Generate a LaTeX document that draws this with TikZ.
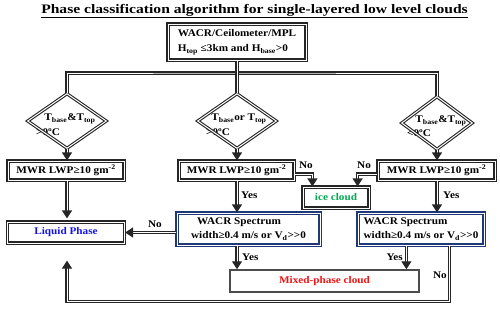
\documentclass[tikz,border=0pt]{standalone}
\usepackage{fontspec}
\setmainfont{Liberation Serif}[FakeStretch=1.1]
\newfontfamily\titlefont{Liberation Serif}[FakeStretch=1.2]
\usetikzlibrary{arrows.meta,shapes.geometric,calc}
\definecolor{wblue}{RGB}{31,56,120}
\definecolor{lblue}{RGB}{20,20,240}
\definecolor{igreen}{RGB}{0,170,80}
\definecolor{mred}{RGB}{240,20,20}
\begin{document}
\begin{tikzpicture}[x=1pt,y=-1pt,
  bxfont/.style={font=\bfseries\fontsize{10.2}{14}\selectfont},
  tbox/.style={draw=black!85, double=white, double distance=1pt, line width=1.2pt, fill=white, inner sep=0pt, bxfont},
  bbox/.style={tbox, draw=wblue},
  diam/.style={diamond, draw=black!85, double=white, double distance=1pt, line width=1.1pt, inner sep=0pt},
  dtext/.style={bxfont, inner sep=0pt},
  conn/.style={draw=black!85, double=white, double distance=1pt, line width=1.2pt},
  arr/.style={conn, -{Triangle[width=10pt,length=8pt]}},
  lbl/.style={bxfont, inner sep=0pt}]
\useasboundingbox (0,0) rectangle (500,308);
\node[font=\titlefont\bfseries\fontsize{13}{15}\selectfont, inner sep=0pt] (title) at (254.5,11) {\underline{Phase classification algorithm for single-layered low level clouds}};
\node[tbox, minimum width=138pt, minimum height=36pt, align=left, font=\bfseries\fontsize{10.2}{15}\selectfont] (top) at (237,42) {WACR/Ceilometer/MPL\\H\textsubscript{top} ≤3km and H\textsubscript{base}>0};
% diamond texts
\node[dtext] (d1a) at (70,119) {T\textsubscript{base}\&T\textsubscript{top}};
\node[dtext, anchor=west] (d1b) at (36,132) {>0ºC};
\node[dtext] (d2a) at (239,119) {T\textsubscript{base}or T\textsubscript{top}};
\node[dtext, anchor=west] (d2b) at (206,132) {>0ºC};
\node[dtext] (d3a) at (441,121) {T\textsubscript{base}\&T\textsubscript{top}};
\node[dtext, anchor=west] (d3b) at (407,133) {<0ºC};
\node[diam, minimum width=79pt, minimum height=55pt] (d1) at (67,121) {};
\node[diam, minimum width=79pt, minimum height=55pt] (d2) at (237,121) {};
\node[diam, minimum width=71pt, minimum height=53pt] (d3) at (437,123) {};
% boxes
\node[tbox, minimum width=116pt, minimum height=19pt] (m1) at (66,170.5) {MWR LWP≥10 gm\textsuperscript{-2}};
\node[tbox, minimum width=115pt, minimum height=19pt] (m2) at (236.5,170.5) {MWR LWP≥10 gm\textsuperscript{-2}};
\node[tbox, minimum width=117pt, minimum height=19pt] (m3) at (436.5,170.5) {MWR LWP≥10 gm\textsuperscript{-2}};
\node[tbox, minimum width=66pt, minimum height=21pt, text=igreen] (ice) at (336,197.5) {ice cloud};
\node[tbox, minimum width=117pt, minimum height=21pt, text=lblue] (liq) at (66,232.5) {Liquid Phase};
\node[bbox, minimum width=143pt, minimum height=32pt, align=left] (w1) at (248.5,229) {\hspace*{6pt}WACR Spectrum\\width≥0.4 m/s or V\textsubscript{d}>\kern0pt>0};
\node[bbox, minimum width=126pt, minimum height=32pt, align=left] (w2) at (421,229) {WACR Spectrum\\width≥0.4 m/s or V\textsubscript{d}>\kern0pt>0};
\node[draw=black!70, line width=1.5pt, fill=white, inner sep=0pt, bxfont, text=mred, minimum width=189pt, minimum height=22pt] (mix) at (324.5,281) {Mixed-phase cloud};
% connectors
\coordinate (jc) at (237,73);
\draw[conn] (d1.north) |- (jc) -| (d3.north);
\draw[conn] (top.south) -- (d2.north);
\draw[arr] (d1.south) -- (d1.south |- m1.north);
\draw[arr] (d2.south) -- (d2.south |- m2.north);
\draw[arr] (d3.south) -- (d3.south |- m3.north);
\draw[arr, shorten >=3pt] (d1.south |- m1.south) -- (d1.south |- liq.north);
\draw[arr] ($(m2.east)+(0,3.5)$) -| ($(ice.north west)+(10,0)$);
\draw[arr] ($(m3.west)+(0,3.5)$) -| ($(ice.north east)+(-12,0)$);
\draw[arr] (d2.south |- m2.south) -- (d2.south |- w1.north);
\draw[arr] (d3.south |- m3.south) -- (d3.south |- w2.north);
\draw[arr] (w1.west |- liq.east) -- (liq.east);
\draw[arr] (d2.south |- w1.south) -- (d2.south |- mix.north);
\coordinate (w2m) at ($(w2.south west)+(49,0)$);
\draw[arr] (w2m) -- (w2m |- mix.north);
\coordinate (w2n) at ($(w2.south east)+(-35,0)$);
\coordinate (bot) at ($(w2n)+(0,56)$);
\draw[arr, shorten >=17pt] (w2n) -- (bot) -| (d1.south |- liq.south);
% labels
\node[lbl] (no1) at (306,165) {No};
\node[lbl] (no2) at (364,165) {No};
\node[lbl, anchor=west] (yes1) at (241,195) {Yes};
\node[lbl, anchor=west] (yes2) at (443,195) {Yes};
\node[lbl] (no3) at (155,224) {No};
\node[lbl, anchor=west] (yes3) at (242,257) {Yes};
\node[lbl, anchor=east] (yes4) at (403,257) {Yes};
\node[lbl, anchor=east] (no4) at (447,275) {No};
\end{tikzpicture}
\end{document}
